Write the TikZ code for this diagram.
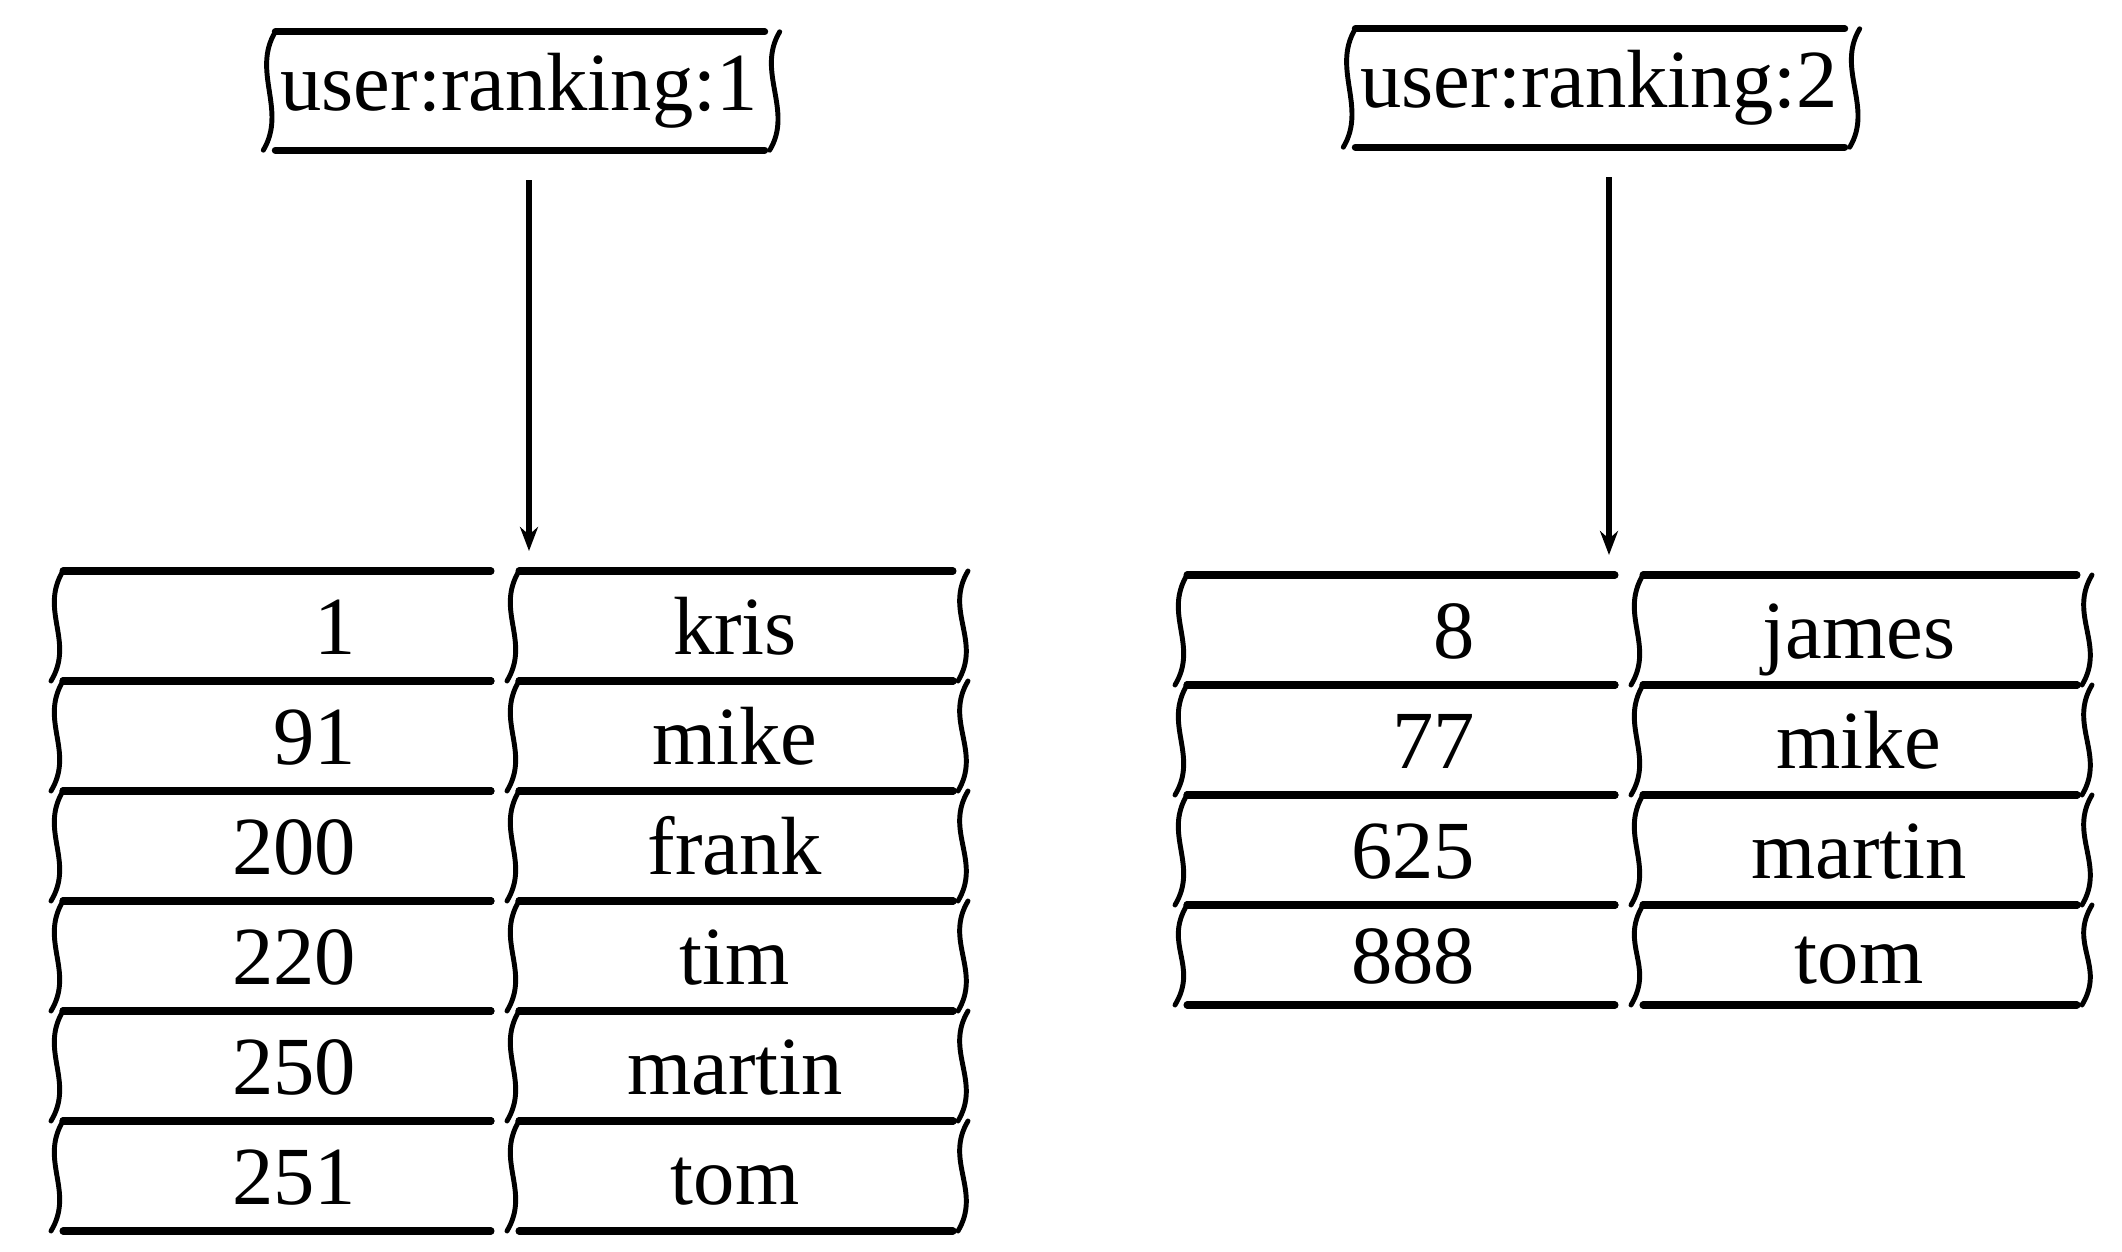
\documentclass[tikz,border=0pt]{standalone}
\usepackage{fontspec}
\setmainfont{Liberation Serif}
\usetikzlibrary{positioning,arrows.meta}

\begin{document}
\begin{tikzpicture}[
      x=0.1mm, y=-0.1mm,
      >={Stealth[length=2.4mm,width=1.8mm]},
      node distance=0pt and 0.6mm,
      every node/.style={font=\fontsize{23.5}{28}\selectfont},
      hline/.style={line width=2pt,line cap=round},
      vline/.style={line width=1.4pt,line cap=round,
        to path={.. controls +(-24,40) and +(24,-40) .. (\tikztotarget)}},
      sketch/.style={append after command={
          \pgfextra{\let\thiscell\tikzlastnode}
          ([xshift=1.2mm]\thiscell.north west) edge[hline] ([xshift=-1mm]\thiscell.north east)
          ([xshift=1.2mm]\thiscell.south west) edge[hline] ([xshift=-1mm]\thiscell.south east)
          ([xshift=1.2mm]\thiscell.north west) edge[vline] (\thiscell.south west)}},
      closed/.style={sketch,append after command={
          \pgfextra{\let\thiscell\tikzlastnode}
          ([xshift=0.5mm]\thiscell.north east) edge[vline] ([xshift=-0.5mm]\thiscell.south east)}},
      key/.style={closed,minimum width=51mm,minimum height=11.7mm,inner sep=0pt},
      cell/.style={minimum height=11mm,inner sep=0pt,outer sep=0pt,text height=16pt,text depth=0pt},
      score/.style={cell,sketch,text width=45mm,align=right},
      member/.style={cell,closed,minimum width=45.6mm},
      arrow/.style={->,line width=1.8pt,shorten <=3mm,shorten >=2mm},
    ]
    \useasboundingbox (0,0) rectangle (2122,1252);

    % Keys
    \node[key] (k1) at (519,91) {user:ranking:1};
    \node[key] (k2) at (1599,88) {user:ranking:2};

    % user:ranking:1
    \node[score,anchor=north west] (a1) at (51,571) {1\kern14.5mm};
    \node[member,right=of a1] (m1) {kris};
    \node[score,below=of a1] (a2) {91\kern14.5mm};
    \node[member,right=of a2] (m2) {mike};
    \node[score,below=of a2] (a3) {200\kern14.5mm};
    \node[member,right=of a3] (m3) {frank};
    \node[score,below=of a3] (a4) {220\kern14.5mm};
    \node[member,right=of a4] (m4) {tim};
    \node[score,below=of a4] (a5) {250\kern14.5mm};
    \node[member,right=of a5] (m5) {martin};
    \node[score,below=of a5] (a6) {251\kern14.5mm};
    \node[member,right=of a6] (m6) {tom};

    % user:ranking:2
    \node[score,anchor=north west] (b1) at (1175,575) {8\kern15mm};
    \node[member,right=of b1] (n1) {james};
    \node[score,below=of b1] (b2) {77\kern15mm};
    \node[member,right=of b2] (n2) {mike};
    \node[score,below=of b2] (b3) {625\kern15mm};
    \node[member,right=of b3] (n3) {martin};
    \node[score,below=of b3,minimum height=10mm] (b4) {888\kern15mm};
    \node[member,right=of b4,minimum height=10mm] (n4) {tom};

    % Arrows
    \draw[arrow] ([xshift=1mm]k1.south) -- ([xshift=1mm]k1.south |- a1.north);
    \draw[arrow] ([xshift=1mm]k2.south) -- ([xshift=1mm]k2.south |- b1.north);
  \end{tikzpicture}
\end{document}
